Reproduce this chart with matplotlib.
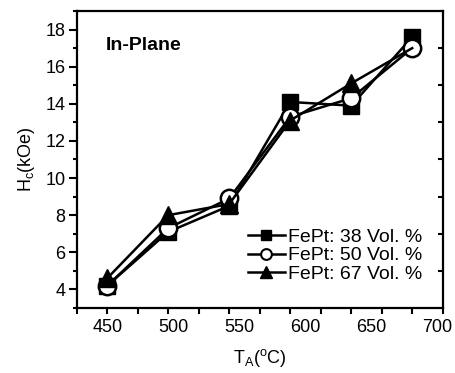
import matplotlib
matplotlib.use("Agg")
import matplotlib.pyplot as plt
from matplotlib.lines import Line2D
from matplotlib.ticker import MultipleLocator, FixedLocator

plt.rcParams['font.family'] = ['Liberation Sans', 'DejaVu Sans']
plt.rcParams['mathtext.fontset'] = 'custom'
plt.rcParams['mathtext.rm'] = 'Liberation Sans'

temps = [450, 500, 550, 600, 650, 700]
hc_38 = [4.2, 7.1, 8.5, 14.1, 13.9, 17.6]
hc_50 = [4.2, 7.3, 8.9, 13.3, 14.3, 17.0]
hc_67 = [4.6, 8.0, 8.6, 13.1, 15.1, 17.0]
labels = ['FePt: 38 Vol. %', 'FePt: 50 Vol. %', 'FePt: 67 Vol. %']
xtick_labels = [450, 500, 550, 600, 650, 700]

fig = plt.figure(figsize=(4.55, 3.73), dpi=100)
ax = fig.add_axes([0.1686, 0.1743, 0.973 - 0.1686, 0.9705 - 0.1743])

lw = 1.8
styles = [dict(marker='s', ms=11.5, mfc='black', mec='black'),
          dict(marker='o', ms=12.5, mfc='white', mec='black', mew=1.8),
          dict(marker='^', ms=13.5, mfc='black', mec='black')]

ax.plot(temps, hc_38, '-', color='black', lw=lw, zorder=3, **styles[0])
ax.plot(temps, hc_50, '-', color='black', lw=lw, zorder=4, **styles[1])
ax.plot(temps, hc_67, '-', color='black', lw=lw, zorder=5,
        markevery=[0, 1, 2, 3, 4], **styles[2])

ax.set_xlim(425, 725)
ax.set_ylim(3, 19)

ax.xaxis.set_major_locator(MultipleLocator(50))
ax.xaxis.set_minor_locator(MultipleLocator(25))
ax.yaxis.set_major_locator(MultipleLocator(2))
ax.yaxis.set_minor_locator(MultipleLocator(1))
ax.tick_params(axis='both', which='major', direction='out', length=5, width=1.5,
               labelsize=13)
ax.tick_params(axis='both', which='minor', direction='out', length=3, width=1.5)
ax.tick_params(axis='x', which='both', labelbottom=False, length=4.5)
ax.tick_params(axis='y', which='major', length=6, pad=2)

for s in ax.spines.values():
    s.set_linewidth(1.6)

# x tick labels as drawn in the reference (spaced slightly wider than the ticks)
r = 61.0 / 65.9
def fwd(x):
    return 450 + (x - 450) * r
def inv(x):
    return 450 + (x - 450) / r
sec = ax.secondary_xaxis('bottom', functions=(fwd, inv))
sec.set_xticks(xtick_labels)
sec.set_xticklabels([str(v) for v in xtick_labels])
sec.tick_params(length=0, labelsize=13, pad=8)
sec.spines['bottom'].set_visible(False)

# right-side inward ticks at odd values
secy = ax.secondary_yaxis('right')
secy.yaxis.set_major_locator(FixedLocator([5, 7, 9, 11, 13, 15, 17]))
secy.tick_params(direction='in', length=3.5, width=1.5, labelright=False)
secy.spines['right'].set_visible(False)

sec.set_xlabel(r'T$_\mathregular{A}$($^\mathregular{o}$C)', fontsize=13, labelpad=7.5)
ax.set_ylabel(r'H$_\mathregular{c}$(kOe)', fontsize=13, labelpad=6)

ax.text(0.08, 0.885, 'In-Plane', transform=ax.transAxes, fontsize=14,
        fontweight='bold', va='center', ha='left')

handles = []
for st in styles:
    st2 = dict(st)
    st2['ms'] = st['ms'] * 0.62
    if 'mew' in st2:
        st2['mew'] = 1.5
    handles.append(Line2D([], [], color='black', lw=lw, **st2))

leg = ax.legend(handles, labels, loc='lower right', numpoints=1,
                bbox_to_anchor=(0.975, 0.045), frameon=False, fontsize=14,
                handlelength=1.9, handletextpad=0.15, labelspacing=0.05,
                borderaxespad=0.2)

fig.savefig('out.png', dpi=100)
